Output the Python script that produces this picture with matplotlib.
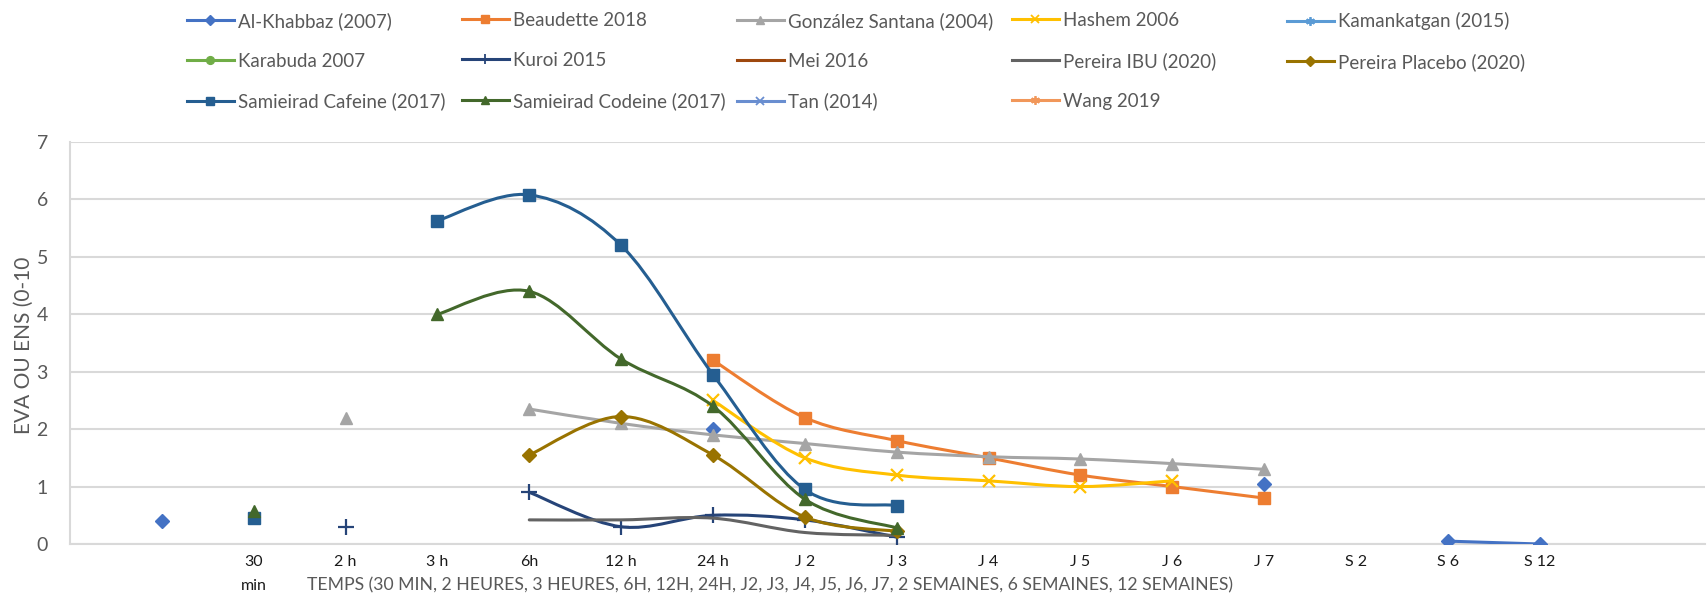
import numpy as np
import matplotlib
matplotlib.use("Agg")
import matplotlib.pyplot as plt
from matplotlib.path import Path
from matplotlib.patches import PathPatch
from matplotlib.lines import Line2D

nan = np.nan

# ---- data ----
categories = ["", "30\nmin", "2 h", "3 h", "6h", "12 h", "24 h", "J 2", "J 3", "J 4",
              "J 5", "J 6", "J 7", "S 2", "S 6", "S 12"]

al_khabbaz      = [0.4, nan, nan, nan, nan, nan, 2.0, nan, nan, nan, nan, nan, 1.05, nan, 0.05, 0.0]
beaudette       = [nan, nan, nan, nan, nan, nan, 3.2, 2.2, 1.8, 1.5, 1.2, 1.0, 0.8, nan, nan, nan]
gonzalez        = [nan, nan, 2.2, nan, 2.35, 2.1, 1.9, 1.75, 1.6, 1.52, 1.48, 1.4, 1.3, nan, nan, nan]
hashem          = [nan, nan, nan, nan, nan, nan, 2.5, 1.5, 1.2, 1.1, 1.0, 1.1, nan, nan, nan, nan]
kamankatgan     = [nan] * 16
karabuda        = [nan] * 16
kuroi           = [nan, nan, 0.3, nan, 0.9, 0.3, 0.5, 0.42, 0.12, nan, nan, nan, nan, nan, nan, nan]
mei             = [nan] * 16
pereira_ibu     = [nan, nan, nan, nan, 0.42, 0.42, 0.45, 0.2, 0.15, nan, nan, nan, nan, nan, nan, nan]
pereira_placebo = [nan, nan, nan, nan, 1.55, 2.22, 1.55, 0.47, 0.22, nan, nan, nan, nan, nan, nan, nan]
samieirad_caf   = [nan, 0.45, nan, 5.63, 6.08, 5.2, 2.95, 0.95, 0.67, nan, nan, nan, nan, nan, nan, nan]
samieirad_cod   = [nan, 0.57, nan, 4.0, 4.4, 3.22, 2.4, 0.78, 0.28, nan, nan, nan, nan, nan, nan, nan]
tan             = [nan] * 16
wang            = [nan] * 16

series_names = ["Al-Khabbaz (2007)", "Beaudette 2018", "González Santana (2004)", "Hashem 2006",
                "Kamankatgan (2015)", "Karabuda 2007", "Kuroi 2015", "Mei 2016",
                "Pereira IBU (2020)", "Pereira Placebo (2020)", "Samieirad Cafeine (2017)",
                "Samieirad Codeine (2017)", "Tan (2014)", "Wang 2019"]
series_values = [al_khabbaz, beaudette, gonzalez, hashem, kamankatgan, karabuda, kuroi, mei,
                 pereira_ibu, pereira_placebo, samieirad_caf, samieirad_cod, tan, wang]

ast = (6, 2, 0)
styles = [
    dict(color="#4472C4", marker="D", ms=7),
    dict(color="#ED7D31", marker="s", ms=8),
    dict(color="#A5A5A5", marker="^", ms=9),
    dict(color="#FFC000", marker="x", ms=9),
    dict(color="#5B9BD5", marker=ast, ms=9),
    dict(color="#70AD47", marker="o", ms=8),
    dict(color="#264478", marker="+", ms=11),
    dict(color="#9E480E", marker=None, ms=0),
    dict(color="#636363", marker=None, ms=0),
    dict(color="#997300", marker="D", ms=7),
    dict(color="#255E91", marker="s", ms=8),
    dict(color="#43682B", marker="^", ms=9),
    dict(color="#698ED0", marker="x", ms=9),
    dict(color="#F1975A", marker=ast, ms=9),
]

FONT = ["Lato", "DejaVu Sans"]
plt.rcParams["font.family"] = FONT
GRAY = "#595959"
GRID = "#D9D9D9"
LW = 2.2

W, H = 1707, 595
fig = plt.figure(figsize=(W / 100, H / 100), dpi=100)
ax = fig.add_axes([70 / W, 1 - 544 / H, (1705 - 70) / W, (544 - 142) / H])

xpos = np.arange(1, len(categories) + 1)


def smooth_path(xs, ys):
    n = len(xs)
    verts = [(xs[0], ys[0])]
    codes = [Path.MOVETO]
    for i in range(n - 1):
        a = i - 1 if i > 0 else i
        d = i + 2 if i + 2 < n else i + 1
        c1 = (xs[i] + (xs[i + 1] - xs[a]) / 6.0, ys[i] + (ys[i + 1] - ys[a]) / 6.0)
        c2 = (xs[i + 1] - (xs[d] - xs[i]) / 6.0, ys[i + 1] - (ys[d] - ys[i]) / 6.0)
        verts += [c1, c2, (xs[i + 1], ys[i + 1])]
        codes += [Path.CURVE4] * 3
    return Path(verts, codes)


handles = []
for k, (name, vals, st) in enumerate(zip(series_names, series_values, styles)):
    y = np.array(vals, dtype=float)
    z = 3 + k * 0.01
    valid = ~np.isnan(y)
    i = 0
    while i < len(y):
        if valid[i]:
            j = i
            while j + 1 < len(y) and valid[j + 1]:
                j += 1
            if j > i:
                p = smooth_path(xpos[i:j + 1].astype(float), y[i:j + 1])
                ax.add_patch(PathPatch(p, fill=False, edgecolor=st["color"], lw=LW,
                                       zorder=z, capstyle="round", joinstyle="round"))
            i = j + 1
        else:
            i += 1
    thin = st["marker"] in ("x", "+", ast)
    if st["marker"] is not None:
        ax.plot(xpos, y, ls="none", marker=st["marker"], ms=st["ms"], color=st["color"],
                mec=st["color"], mew=1.6 if thin else 1.0, zorder=z + 0.005)
    h = Line2D([], [], color=st["color"], lw=LW,
               marker=st["marker"] if st["marker"] is not None else "",
               ms=st["ms"] * 0.7, mew=1.3 if thin else 1.0)
    handles.append(h)

# axes styling
ax.set_xlim(0, 17.8)
ax.set_ylim(0, 7)
ax.set_yticks(range(0, 8))
ax.set_xticks(xpos[1:])
ax.set_xticklabels(categories[1:], fontsize=11.5, color="#1a1a1a", linespacing=1.9, va="top")
ax.set_xticks(np.arange(2, 17, 2), minor=True)
ax.tick_params(axis="x", which="both", length=0, pad=8)
ax.tick_params(axis="y", length=0, pad=20, labelsize=14, labelcolor=GRAY)
ax.grid(axis="y", which="major", color=GRID, lw=1.5)
ax.grid(axis="x", which="minor", color=GRID, lw=1.5)
ax.grid(axis="x", which="major", visible=False)
for s in ["top", "right"]:
    ax.spines[s].set_visible(False)
ax.spines["left"].set_color(GRID)
ax.spines["left"].set_linewidth(1.5)
ax.spines["bottom"].set_color(GRID)
ax.spines["bottom"].set_linewidth(1.5)
ax.set_axisbelow(True)
for lab in ax.get_yticklabels():
    lab.set_horizontalalignment("center")

fig.text(24 / W, 1 - 345 / H, "EVA OU ENS (0-10", rotation=90, ha="center", va="center",
         fontsize=15, color=GRAY)
fig.text(770 / W, 1 - 585 / H,
         "TEMPS (30 MIN, 2 HEURES, 3 HEURES, 6H, 12H, 24H, J2, J3, J4, J5, J6, J7, 2 SEMAINES, 6 SEMAINES, 12 SEMAINES)",
         ha="center", va="center", fontsize=12.7, color=GRAY)

# legend: 5 columns laid out row-wise, each column its own legend
ncols = 5
col_x = [187, 462, 737, 1012, 1287]
for c in range(ncols):
    idx = list(range(c, len(handles), ncols))
    fig.legend([handles[i] for i in idx], [series_names[i] for i in idx],
               loc="upper left", bbox_to_anchor=(col_x[c] / W, 1 - 12 / H),
               frameon=False, fontsize=13.5, handlelength=2.5, handletextpad=0.2,
               labelspacing=1.22, borderaxespad=0, borderpad=0, labelcolor=GRAY)

fig.savefig("out.png", dpi=100, facecolor="white")
